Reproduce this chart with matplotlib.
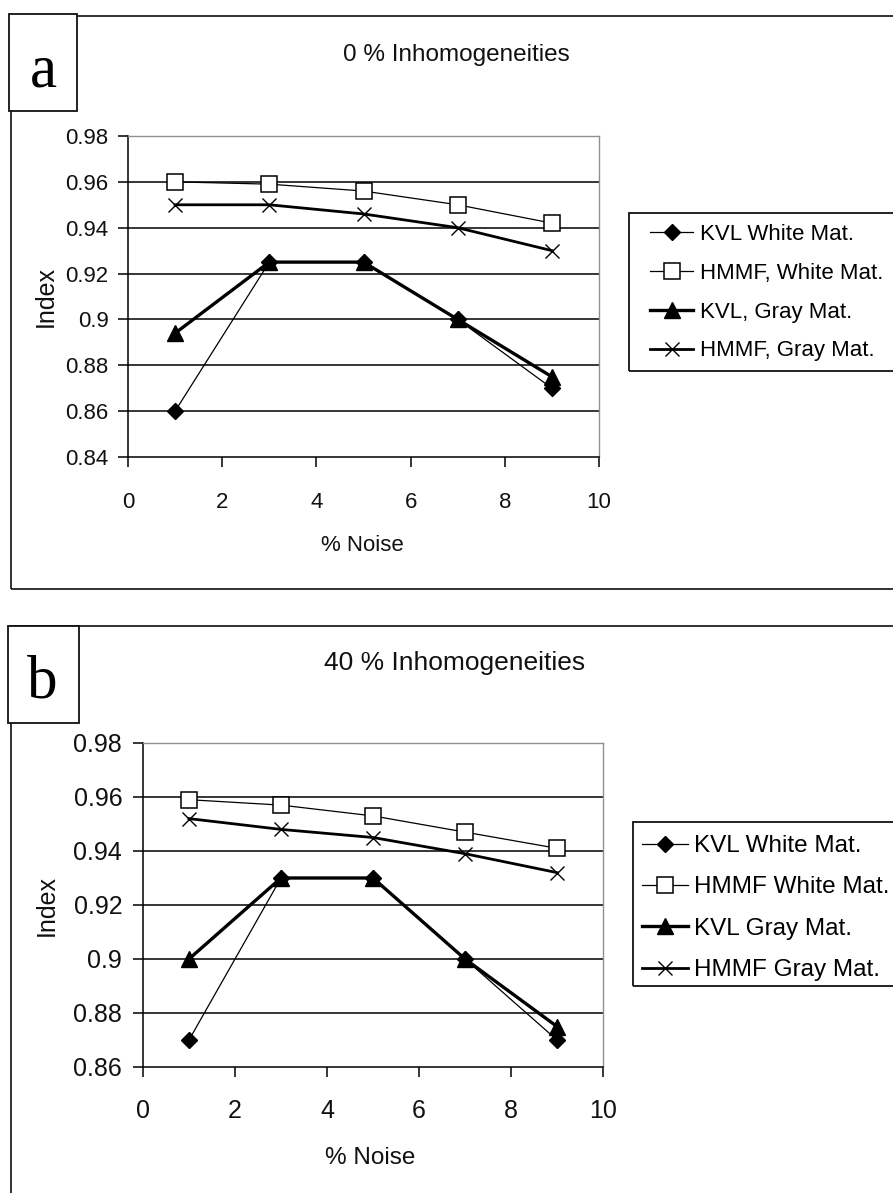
import matplotlib
matplotlib.use('Agg')
import matplotlib.pyplot as plt
from matplotlib.patches import Rectangle

W, H = 893, 1193

# ---------------- data ----------------
noise = [1, 3, 5, 7, 9]
x_ticks = [0, 2, 4, 6, 8, 10]
x_label = "% Noise"
y_label = "Index"

a_title = "0 % Inhomogeneities"
a_labels = ["KVL White Mat.", "HMMF, White Mat.", "KVL, Gray Mat.", "HMMF, Gray Mat."]
a_kvl_white = [0.860, 0.925, 0.925, 0.900, 0.870]
a_hmmf_white = [0.960, 0.959, 0.956, 0.950, 0.942]
a_kvl_gray = [0.894, 0.925, 0.925, 0.900, 0.875]
a_hmmf_gray = [0.950, 0.950, 0.946, 0.940, 0.930]
a_yticks = [0.84, 0.86, 0.88, 0.90, 0.92, 0.94, 0.96, 0.98]
a_ytick_labels = ["0.84", "0.86", "0.88", "0.9", "0.92", "0.94", "0.96", "0.98"]

b_title = "40 % Inhomogeneities"
b_labels = ["KVL White Mat.", "HMMF White Mat.", "KVL Gray Mat.", "HMMF Gray Mat."]
b_kvl_white = [0.870, 0.930, 0.930, 0.900, 0.870]
b_hmmf_white = [0.959, 0.957, 0.953, 0.947, 0.941]
b_kvl_gray = [0.900, 0.930, 0.930, 0.900, 0.875]
b_hmmf_gray = [0.952, 0.948, 0.945, 0.939, 0.932]
b_yticks = [0.86, 0.88, 0.90, 0.92, 0.94, 0.96, 0.98]
b_ytick_labels = ["0.86", "0.88", "0.9", "0.92", "0.94", "0.96", "0.98"]

# ---------------- styling ----------------
plt.rcParams['font.family'] = ['Liberation Sans', 'DejaVu Sans']

styles = [
    dict(marker='D', markersize=8.5, linewidth=0.9, color='black', mfc='black', mec='black'),
    dict(marker='s', markersize=11, linewidth=0.9, color='black', mfc='white', mec='black', mew=1.1),
    dict(marker='^', markersize=11, linewidth=2.4, color='black', mfc='black', mec='black'),
    dict(marker='x', markersize=10, linewidth=2.0, color='black', mew=1.0),
]


def fx(x):
    return x / W


def fy(y):
    return 1 - y / H


fig = plt.figure(figsize=(W / 100, H / 100), dpi=100)
fig.patch.set_facecolor('white')


def panel(box, letter, letter_box, letter_pos, title, title_pos, title_fs,
          ax_px, series, labels, yticks, ylabels, tick_fs, ypad, xpad,
          ylab_coords, xlab_coords, xlab_fs, ylab_fs, leg_frame, leg_anchor, leg_fs,
          leg_spacing, leg_hl, leg_tp):
    # outer panel frame
    x0, y0, x1, y1 = box
    fig.add_artist(Rectangle((fx(x0), fy(y1)), fx(x1) - fx(x0), fy(y0) - fy(y1),
                             transform=fig.transFigure, fill=False,
                             edgecolor='#222222', linewidth=1.3, zorder=1))
    # letter box
    lx0, ly0, lx1, ly1 = letter_box
    fig.add_artist(Rectangle((fx(lx0), fy(ly1)), fx(lx1) - fx(lx0), fy(ly0) - fy(ly1),
                             transform=fig.transFigure, facecolor='white',
                             edgecolor='#111111', linewidth=1.3, zorder=2))
    fig.text(fx(letter_pos[0]), fy(letter_pos[1]), letter, family='Liberation Serif',
             fontsize=44, ha='center', va='center', zorder=3)
    # title
    fig.text(fx(title_pos[0]), fy(title_pos[1]), title, fontsize=title_fs,
             ha='center', va='baseline', color='#111111')

    l, t, r, b = ax_px
    ax = fig.add_axes([fx(l), fy(b), fx(r) - fx(l), fy(t) - fy(b)])
    lines = []
    for vals, st, lab in zip(series, styles, labels):
        ln, = ax.plot(noise, vals, label=lab, clip_on=False, **st)
        lines.append(ln)
    ax.set_xlim(x_ticks[0], x_ticks[-1])
    ax.set_ylim(yticks[0], yticks[-1])
    ax.set_xticks(x_ticks)
    ax.set_xticklabels([str(v) for v in x_ticks])
    ax.set_yticks(yticks)
    ax.set_yticklabels(ylabels)
    ax.tick_params(axis='both', direction='out', length=7, width=1.1, color='black',
                   labelsize=tick_fs, labelcolor='#111111')
    ax.tick_params(axis='y', pad=ypad)
    ax.tick_params(axis='x', pad=xpad)
    ax.yaxis.grid(True, color='black', linewidth=1.1)
    ax.xaxis.grid(False)
    ax.set_axisbelow(True)
    for tk in (ax.yaxis.get_major_ticks()[0], ax.yaxis.get_major_ticks()[-1]):
        tk.gridline.set_visible(False)
    ax.spines['left'].set_color('black')
    ax.spines['bottom'].set_color('black')
    ax.spines['left'].set_linewidth(1.1)
    ax.spines['bottom'].set_linewidth(1.1)
    ax.spines['top'].set_color('#909090')
    ax.spines['right'].set_color('#909090')
    ax.spines['top'].set_linewidth(1.0)
    ax.spines['right'].set_linewidth(1.0)
    ax.set_ylabel(y_label, fontsize=ylab_fs, color='#111111')
    ax.yaxis.set_label_coords(*ylab_coords)
    ax.set_xlabel(x_label, fontsize=xlab_fs, color='#111111')
    ax.xaxis.set_label_coords(*xlab_coords)
    ax.xaxis.label.set_va('center')
    ax.yaxis.label.set_va('center')

    # legend frame (extends beyond right edge)
    gx0, gy0, gy1 = leg_frame
    fig.add_artist(Rectangle((fx(gx0), fy(gy1)), fx(W + 20) - fx(gx0), fy(gy0) - fy(gy1),
                             transform=fig.transFigure, fill=False,
                             edgecolor='#111111', linewidth=1.3))
    fig.legend(handles=lines, loc='upper left',
               bbox_to_anchor=(fx(leg_anchor[0]), fy(leg_anchor[1])),
               bbox_transform=fig.transFigure, frameon=False, fontsize=leg_fs,
               borderpad=0, borderaxespad=0, labelspacing=leg_spacing,
               handlelength=leg_hl, handletextpad=leg_tp, numpoints=1)
    return ax


panel(box=(11, 16, W + 20, 589), letter='a', letter_box=(9, 14, 77, 111),
      letter_pos=(43, 72), title=a_title, title_pos=(456, 61), title_fs=17.5,
      ax_px=(128, 136, 599, 457),
      series=[a_kvl_white, a_hmmf_white, a_kvl_gray, a_hmmf_gray], labels=a_labels,
      yticks=a_yticks, ylabels=a_ytick_labels, tick_fs=16, ypad=7, xpad=18,
      ylab_coords=(-0.174, 0.5), xlab_coords=(0.497, -0.277), xlab_fs=16, ylab_fs=18,
      leg_frame=(629, 213, 371), leg_anchor=(650, 224), leg_fs=16,
      leg_spacing=0.8, leg_hl=1.95, leg_tp=0.3)

panel(box=(11, 626, W + 20, H + 20), letter='b', letter_box=(8, 626, 79, 723),
      letter_pos=(42, 683), title=b_title, title_pos=(455, 670), title_fs=19,
      ax_px=(143, 743, 603, 1067),
      series=[b_kvl_white, b_hmmf_white, b_kvl_gray, b_hmmf_gray], labels=b_labels,
      yticks=b_yticks, ylabels=b_ytick_labels, tick_fs=18, ypad=8, xpad=16,
      ylab_coords=(-0.209, 0.5), xlab_coords=(0.493, -0.281), xlab_fs=17.5, ylab_fs=18,
      leg_frame=(633, 822, 986), leg_anchor=(642, 835), leg_fs=17.5,
      leg_spacing=0.8, leg_hl=1.9, leg_tp=0.25)

fig.savefig('out.png', dpi=100, facecolor='white')
